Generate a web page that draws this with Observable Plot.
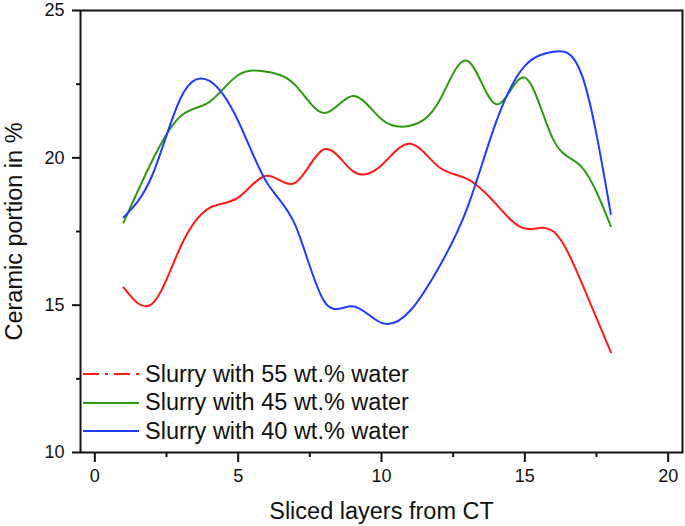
<!DOCTYPE html>
<html>
<head>
<meta charset="utf-8">
<script src="https://cdn.jsdelivr.net/npm/d3@7"></script>
<script src="https://cdn.jsdelivr.net/npm/@observablehq/plot@0.6"></script>
<style>
  html, body { margin: 0; padding: 0; background: #fff; }
  #wrap { position: relative; width: 685px; height: 526px; font-family: "Liberation Sans", Arial, sans-serif; }
  #legend { position: absolute; left: 83px; top: 360px; }
  .row { display: flex; align-items: center; height: 28.5px; }
  .row svg { width: 56px; height: 10px; margin-right: 6px; }
  .row span { font-size: 23.5px; color: #111; white-space: nowrap; }
</style>
</head>
<body>
<div id="wrap"></div>
<script>
// Data
const layers = [1,2,3,4,5,6,7,8,9,10,11,12,13,14,15,16,17,18];
const water55 = [15.6,15.05,17.0,18.3,18.65,19.39,19.16,20.29,19.55,19.75,20.48,19.69,19.28,18.43,17.6,17.5,15.72,13.4];
const water45 = [17.8,19.9,21.42,21.9,22.81,22.92,22.46,21.52,22.1,21.31,21.09,21.9,23.29,21.82,22.72,20.6,19.67,17.68];
const water40 = [17.98,19.4,22.04,22.61,21.25,19.16,17.7,15.13,14.96,14.4,14.81,16.28,18.32,21.22,23.12,23.6,22.78,18.09];
const seriesNames = ["Slurry with 55 wt.% water", "Slurry with 45 wt.% water", "Slurry with 40 wt.% water"];
const seriesColors = ["#ff1a1a", "#2e9a12", "#1f3cff"];
const xTicks = [0,5,10,15,20];
const xMinorTicks = [2.5,7.5,12.5,17.5];
const yTicks = [10,15,20,25];
const yMinorTicks = [12.5,17.5,22.5];
const xTitle = "Sliced layers from CT";
const yTitle = "Ceramic portion in %";

const seriesValues = [water55, water45, water40];
const rows = [];
seriesValues.forEach((vals, i) => vals.forEach((v, j) => rows.push({x: layers[j], y: v, s: seriesNames[i]})));

const chart = Plot.plot({
  width: 685,
  height: 526,
  marginLeft: 80,
  marginRight: 3,
  marginTop: 10,
  marginBottom: 74,
  style: {fontFamily: "'Liberation Sans', Arial, sans-serif", background: "#fff", color: "#111"},
  x: {domain: [-0.5, 20.5]},
  y: {domain: [10, 25]},
  color: {domain: seriesNames, range: seriesColors},
  marks: [
    Plot.line(rows, {x: "x", y: "y", z: "s", stroke: "s", strokeWidth: 2, curve: "natural"}),
    Plot.frame({stroke: "#111", strokeWidth: 2}),
    Plot.axisX({ticks: xTicks, tickSize: 10, tickPadding: 7, fontSize: 18, label: null, strokeWidth: 2}),
    Plot.axisX({ticks: xMinorTicks, tickSize: 5, tickFormat: () => "", label: null, strokeWidth: 2}),
    Plot.axisY({ticks: yTicks, tickSize: 8, tickPadding: 8, fontSize: 18, label: null, strokeWidth: 2}),
    Plot.axisY({ticks: yMinorTicks, tickSize: 4, tickFormat: () => "", label: null, strokeWidth: 2}),
    Plot.text([xTitle], {frameAnchor: "bottom", dy: 66, fontSize: 23.5, fill: "#111", textAnchor: "middle"}),
    Plot.text([yTitle], {frameAnchor: "left", dx: -66, rotate: -90, fontSize: 23.5, fill: "#111", textAnchor: "middle"})
  ]
});
document.getElementById("wrap").appendChild(chart);

const legend = document.createElement("div");
legend.id = "legend";
seriesNames.forEach((name, i) => {
  const row = document.createElement("div");
  row.className = "row";
  const dash = i === 0 ? ' stroke-dasharray="16,6,3,6"' : '';
  row.innerHTML = `<svg viewBox="0 0 56 10"><line x1="0" y1="5" x2="56" y2="5" stroke="${seriesColors[i]}" stroke-width="2"${dash}/></svg><span>${name}</span>`;
  legend.appendChild(row);
});
document.getElementById("wrap").appendChild(legend);
</script>
</body>
</html>
